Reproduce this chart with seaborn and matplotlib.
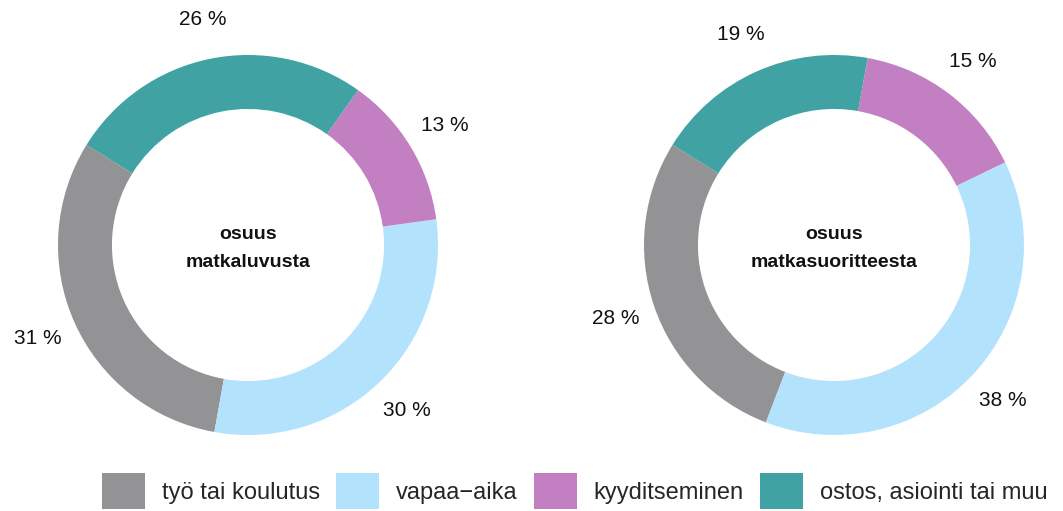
import matplotlib
matplotlib.use("Agg")
import matplotlib.pyplot as plt
import seaborn as sns

categories = ["työ tai koulutus", "vapaa\u2212aika", "kyyditseminen", "ostos, asiointi tai muu"]
matkaluku = [31, 30, 13, 26]
matkasuorite = [28, 38, 15, 19]
centre_titles = ["osuus\nmatkaluvusta", "osuus\nmatkasuoritteesta"]

colors = ["#939396", "#b3e3fc", "#c27fc2", "#40a2a2"]

sns.set_theme(style="white")
plt.rcParams["font.family"] = ["Liberation Sans", "DejaVu Sans"]
pal = sns.color_palette(colors)

fig = plt.figure(figsize=(10.63, 5.11), dpi=100)

# each axes: radius 1 = 190 px, limits +-1.3
w = 2.6 * 190 / 1063
h = 2.6 * 190 / 511
cy = 1 - 245 / 511
wedges = None
for cx_px, vals, title in [(248, matkaluku, centre_titles[0]), (834, matkasuorite, centre_titles[1])]:
    ax = fig.add_axes([cx_px / 1063 - w / 2, cy - h / 2, w, h])
    wedges, _, _ = ax.pie(
        vals, colors=pal, startangle=148.2, counterclock=True,
        wedgeprops=dict(width=0.284, edgecolor="none"),
        autopct=lambda p: f"{round(p)} %", pctdistance=1.21,
        textprops=dict(fontsize=15, color="#111111"),
    )
    ax.text(0, -0.018, title, ha="center", va="center", fontsize=14,
            fontweight="bold", linespacing=1.9, color="#111111")
    ax.set_xlim(-1.3, 1.3)
    ax.set_ylim(-1.3, 1.3)
    ax.set_aspect("equal")
    ax.axis("off")

fig.legend(wedges, categories, loc="center left", bbox_to_anchor=(102 / 1063, 1 - 491 / 511),
           ncol=4, frameon=False, fontsize=17, handlelength=1.82, handleheight=1.95,
           handletextpad=0.72, columnspacing=0.68, borderpad=0, borderaxespad=0)

fig.savefig("out.png", dpi=100)
